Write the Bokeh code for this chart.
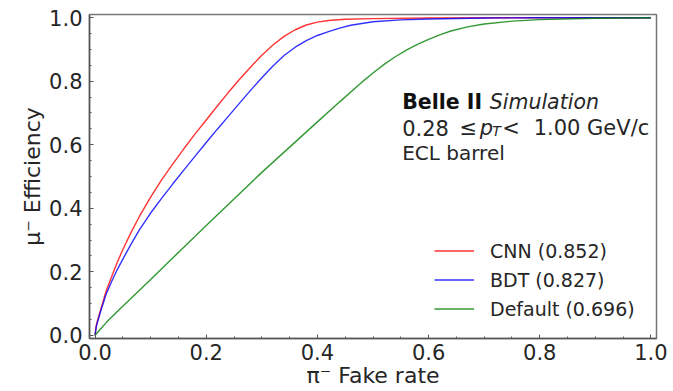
from bokeh.plotting import figure
from bokeh.models import Label, Range1d, FixedTicker
from bokeh.embed import file_html
from bokeh.resources import INLINE

# ---- data ----
cnn_x = [0, 0.002, 0.005, 0.01, 0.02, 0.03, 0.04, 0.05, 0.065, 0.08, 0.10, 0.12, 0.14,
         0.16, 0.18, 0.20, 0.22, 0.24, 0.26, 0.28, 0.30, 0.32, 0.34, 0.36, 0.38, 0.40,
         0.42, 0.45, 0.50, 0.60, 0.80, 1.0]
cnn_y = [0, 0.03, 0.05, 0.08, 0.14, 0.185, 0.23, 0.27, 0.325, 0.375, 0.435, 0.49, 0.54,
         0.588, 0.634, 0.678, 0.722, 0.765, 0.806, 0.845, 0.882, 0.914, 0.941, 0.962,
         0.977, 0.986, 0.991, 0.995, 0.997, 0.999, 1.0, 1.0]

bdt_x = [0, 0.002, 0.005, 0.01, 0.02, 0.03, 0.04, 0.05, 0.065, 0.08, 0.10, 0.12, 0.14,
         0.16, 0.18, 0.20, 0.22, 0.24, 0.26, 0.28, 0.30, 0.32, 0.34, 0.36, 0.38, 0.40,
         0.42, 0.44, 0.46, 0.50, 0.55, 0.60, 0.70, 0.80, 1.0]
bdt_y = [0, 0.025, 0.045, 0.075, 0.13, 0.17, 0.207, 0.24, 0.288, 0.333, 0.385, 0.432,
         0.477, 0.521, 0.564, 0.607, 0.649, 0.69, 0.731, 0.772, 0.811, 0.848, 0.881,
         0.907, 0.928, 0.944, 0.956, 0.967, 0.976, 0.987, 0.993, 0.996, 0.999, 1.0, 1.0]

def_x = [0, 0.01, 0.02, 0.04, 0.10, 0.20, 0.30, 0.40, 0.44, 0.48, 0.50, 0.52, 0.54,
         0.56, 0.58, 0.60, 0.62, 0.64, 0.67, 0.70, 0.75, 0.80, 0.90, 1.0]
def_y = [0, 0.02, 0.04, 0.075, 0.176, 0.346, 0.513, 0.672, 0.735, 0.797, 0.826, 0.853,
         0.877, 0.898, 0.916, 0.932, 0.946, 0.958, 0.971, 0.980, 0.989, 0.994, 0.998, 1.0]

series_labels = ["CNN (0.852)", "BDT (0.827)", "Default (0.696)"]
series_colors = ["red", "blue", "green"]
tick_values = [0.0, 0.2, 0.4, 0.6, 0.8, 1.0]
tick_labels = ["0.0", "0.2", "0.4", "0.6", "0.8", "1.0"]
minor_values = [i * 0.05 for i in range(21)]

FONT = "DejaVu Sans"
TXT = "#262626"

p = figure(width=673, height=391, output_backend="svg", toolbar_location=None,
           x_range=Range1d(-0.01, 1.01), y_range=Range1d(-0.01, 1.01),
           min_border_left=89, min_border_right=17, min_border_top=14, min_border_bottom=53)
p.background_fill_color = "white"
p.border_fill_color = "white"
p.grid.visible = False
p.outline_line_color = "#777777"
p.outline_line_width = 1.5

for xs, ys, lab, col in zip([cnn_x, bdt_x, def_x], [cnn_y, bdt_y, def_y],
                            series_labels, series_colors):
    p.line(xs, ys, color=col, line_width=1.4, line_alpha=0.8, legend_label=lab)

for ax in (p.xaxis, p.yaxis):
    ax.ticker = FixedTicker(ticks=tick_values, minor_ticks=minor_values)
    ax.major_label_overrides = dict(zip(tick_values, tick_labels))
    ax.axis_line_color = "#555555"
    ax.axis_line_width = 1.5
    ax.major_tick_in = 4
    ax.major_tick_out = 0
    ax.minor_tick_in = 2
    ax.minor_tick_out = 0
    ax.major_tick_line_color = "#555555"
    ax.minor_tick_line_color = "#555555"
    ax.major_label_text_font = FONT
    ax.major_label_text_font_size = "21px"
    ax.major_label_text_color = TXT
    ax.axis_label_text_font = FONT
    ax.axis_label_text_font_size = "22px"
    ax.axis_label_text_font_style = "normal"
    ax.axis_label_text_color = TXT

p.xaxis.major_label_standoff = 5
p.yaxis.major_label_standoff = 7
p.xaxis.axis_label = "π⁻ Fake rate"
p.yaxis.axis_label = "μ⁻ Efficiency"
p.xaxis.axis_label_standoff = 0
p.yaxis.axis_label_standoff = 1

# legend
lg = p.legend[0]
lg.location = (345, 18)
lg.border_line_color = None
lg.background_fill_alpha = 0
lg.label_text_font = FONT
lg.label_text_font_size = "19px"
lg.label_text_color = TXT
lg.glyph_width = 40
lg.glyph_height = 23
lg.label_height = 23
lg.label_standoff = 16
lg.spacing = 6
lg.padding = 10
lg.margin = 0

# annotation
def lab(x, y, t, size="20px", style="normal", col=TXT):
    p.add_layout(Label(x=x, y=y, text=t, text_font=FONT, text_font_size=size,
                       text_font_style=style, text_color=col,
                       text_baseline="alphabetic", text_align="left"))

lab(0.5525, 0.735, "Belle II", size="20.5px", style="bold", col="#111111")
lab(0.710, 0.735, "Simulation", size="20.5px", style="italic")
lab(0.5525, 0.653, "0.28", size="21px")
lab(0.6556, 0.653, "≤", size="21px")
lab(0.692, 0.653, "p", size="21px", style="italic")
lab(0.7144, 0.643, "T", size="14px", style="italic")
lab(0.7324, 0.653, "<", size="21px")
lab(0.789, 0.653, "1.00 GeV/c", size="21px")
lab(0.5525, 0.5746, "ECL barrel")

open("out.html", "w").write(file_html(p, INLINE))
